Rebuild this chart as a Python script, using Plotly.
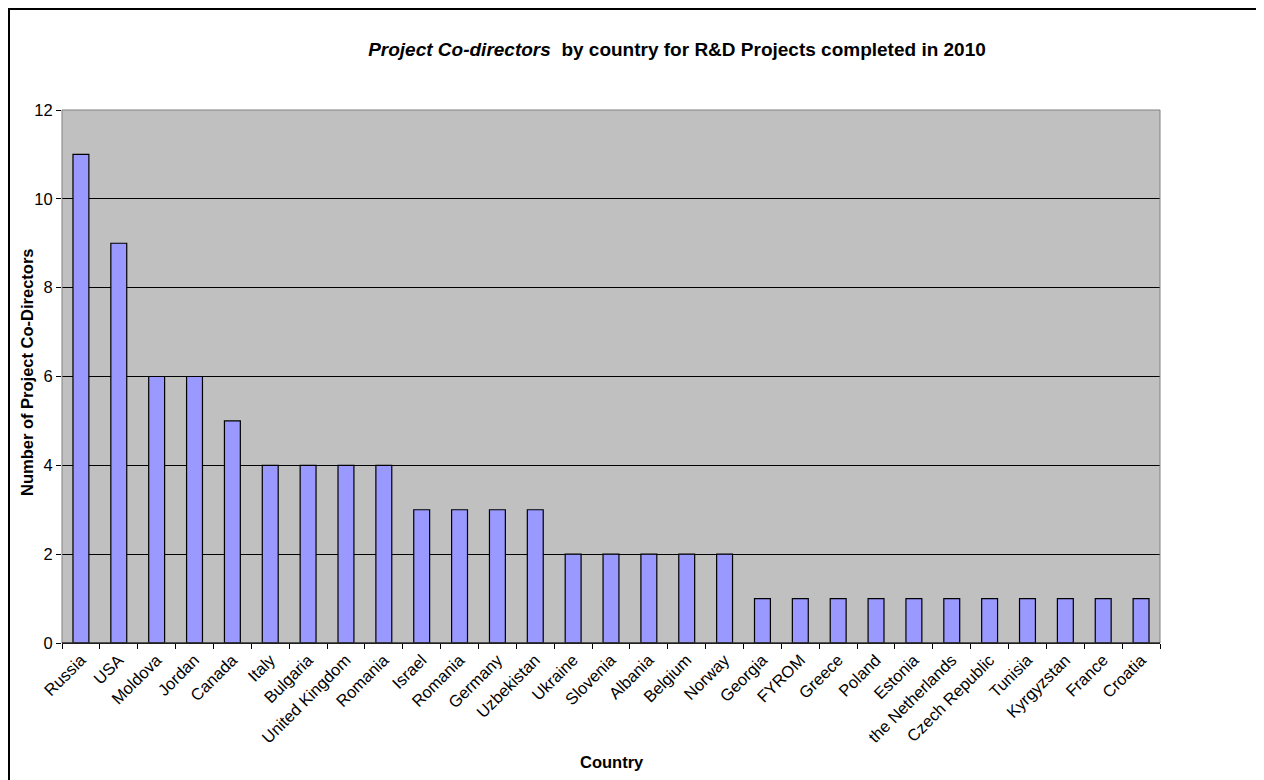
import plotly.graph_objects as go

countries = ["Russia", "USA", "Moldova", "Jordan", "Canada", "Italy", "Bulgaria",
             "United Kingdom", "Romania", "Israel", "Romania", "Germany", "Uzbekistan",
             "Ukraine", "Slovenia", "Albania", "Belgium", "Norway", "Georgia", "FYROM",
             "Greece", "Poland", "Estonia", "the Netherlands", "Czech Republic",
             "Tunisia", "Kyrgyzstan", "France", "Croatia"]
values = [11, 9, 6, 6, 5, 4, 4, 4, 4, 3, 3, 3, 3, 2, 2, 2, 2, 2, 1, 1, 1, 1, 1, 1, 1,
          1, 1, 1, 1]
y_ticks = [0, 2, 4, 6, 8, 10, 12]

n = len(countries)
pos = list(range(n))

# page has an 8px body margin; figure coordinates are page coordinates minus 8
W, H = 1256, 772
L, R, T, B = 54, 104, 102, 137
pw, ph = W - L - R, H - T - B

FONT = "Arial, Liberation Sans, sans-serif"
fs = 16.5

fig = go.Figure()
fig.add_trace(go.Bar(
    x=pos, y=values,
    marker=dict(color="#9999FF", line=dict(color="black", width=1.2)),
    width=0.42, showlegend=False, hoverinfo="skip"))
# invisible trace so the boundary-tick axis is drawn
fig.add_trace(go.Scatter(x=[-0.5, n - 0.5], y=[0, 0], xaxis="x2", mode="markers",
                         marker=dict(opacity=0), showlegend=False, hoverinfo="skip"))

fig.update_layout(
    width=W, height=H,
    margin=dict(l=L, r=R, t=T, b=B),
    paper_bgcolor="white",
    plot_bgcolor="#C0C0C0",
    font=dict(family=FONT, size=fs, color="black"),
    title=dict(text="<b><i>Project Co-directors</i>  by country for R&D Projects completed in 2010</b>",
               xref="container", yref="container",
               x=669 / W, xanchor="center", y=1 - 41 / H, yanchor="middle",
               font=dict(family=FONT, size=19, color="black")),
    xaxis=dict(range=[-0.5, n - 0.5], tickmode="array", tickvals=pos, ticktext=countries,
               tickangle=-45, ticks="", showgrid=False, zeroline=False,
               showline=True, linecolor="black", linewidth=1,
               tickfont=dict(family=FONT, size=fs, color="black")),
    xaxis2=dict(range=[-0.5, n - 0.5], overlaying="x", side="bottom", tickmode="array",
                tickvals=[i - 0.5 for i in range(n + 1)], ticktext=[""] * (n + 1),
                ticks="outside", ticklen=5, tickcolor="black", showgrid=False,
                zeroline=False, showline=False),
    yaxis=dict(range=[0, 12], tickmode="array", tickvals=y_ticks,
               ticks="outside", ticklen=5, tickcolor="black",
               showgrid=True, gridcolor="black", gridwidth=1, zeroline=False,
               showline=False,
               tickfont=dict(family=FONT, size=fs, color="black")),
    annotations=[
        dict(text="<b>Number of Project Co-Directors</b>", textangle=-90,
             xref="paper", yref="paper", x=(19 - L) / pw, y=(T + ph - 364) / ph,
             xanchor="center", yanchor="middle", showarrow=False,
             font=dict(family=FONT, size=fs, color="black")),
        dict(text="<b>Country</b>",
             xref="paper", yref="paper", x=(604 - L) / pw, y=-(754 - (T + ph)) / ph,
             xanchor="center", yanchor="middle", showarrow=False,
             font=dict(family=FONT, size=fs, color="black")),
    ],
)

# plot-area border (gray)
fig.add_shape(type="rect", xref="paper", yref="paper", x0=0, x1=1, y0=0, y1=1,
              line=dict(color="#808080", width=1), layer="above")
# black category axis line along the bottom
fig.add_shape(type="line", xref="paper", yref="paper", x0=0, x1=1, y0=0, y1=0,
              line=dict(color="black", width=1), layer="above")
# outer chart border (extends past the right and bottom edges)
fig.add_shape(type="rect", xref="paper", yref="paper",
              x0=(1 - L) / pw, x1=(W + 10 - L) / pw,
              y0=-(H + 10 - (T + ph)) / ph, y1=1 + (T - 1) / ph,
              line=dict(color="black", width=2), layer="above")

fig.write_html("out.html")
